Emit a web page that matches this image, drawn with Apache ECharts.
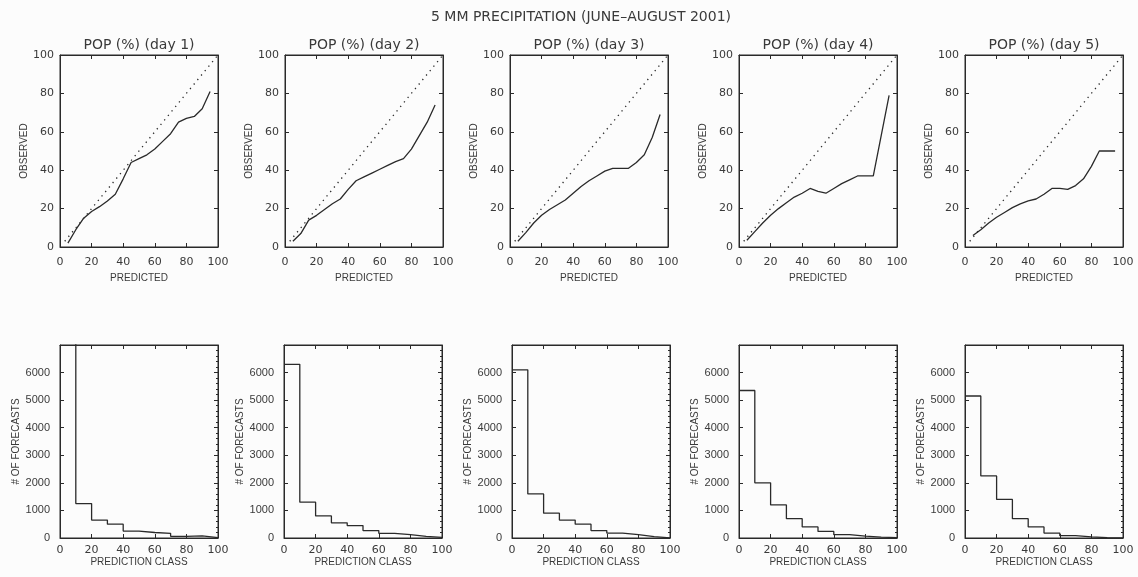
<!DOCTYPE html>
<html><head><meta charset="utf-8">
<script src="https://cdn.jsdelivr.net/npm/echarts@6/dist/echarts.min.js"></script>
<style>html,body{margin:0;padding:0;background:#fcfcfc}#c{width:1138px;height:577px}</style>
</head><body><div id="c"></div>
<script>
const mainTitle = '5 MM PRECIPITATION (JUNE\u2013AUGUST 2001)';
const panelTitles = ['POP (%) (day 1)','POP (%) (day 2)','POP (%) (day 3)','POP (%) (day 4)','POP (%) (day 5)'];
const relTicks = [0,20,40,60,80,100];
const histYTicks = [0,1000,2000,3000,4000,5000,6000];
const classEdges = [0,10,20,30,40,50,60,70,80,90,100];
const perfectLine = [[3,3],[100,100]];

const predicted = [5,10,15,20,25,30,35,40,45,50,55,60,65,70,75,80,85,90,95];
const obsDay1 = [2,9,15,18.5,21,24,27.5,35.5,44,46,48,51,55,59,65,67,68,72,81];
const obsDay2 = [3,7,14,16.5,19.5,22.5,25,30,34.5,36.5,38.5,40.5,42.5,44.5,46,51,58,65,74];
const obsDay3 = [3,7.5,12.5,16.5,19.5,22,24.5,28,31.5,34.5,37,39.5,41,41,41,44,48,57,69];
const obsDay4 = [3.5,8,12.5,16.5,20,23,26,28,30.5,29,28,30.5,33,35,37,37,37,58,79];
const obsDay5 = [6,9,12.5,15.5,18,20.5,22.5,24,25,27.5,30.5,30.5,30,32,35.5,42,50,50,50];

const histDay1 = [7600,1250,650,500,250,200,170,60,80,15];
const histDay2 = [6300,1300,800,550,450,270,170,120,60,25];
const histDay3 = [6100,1600,900,650,500,270,180,120,50,5];
const histDay4 = [5350,2000,1200,700,400,240,120,70,35,10];
const histDay5 = [5150,2250,1400,700,400,180,85,40,15,5];

const obsAll = [obsDay1,obsDay2,obsDay3,obsDay4,obsDay5];
const histAll = [histDay1,histDay2,histDay3,histDay4,histDay5];

const FONT = 'DejaVu Sans, Liberation Sans, sans-serif';
const NARROW = 'Liberation Sans Narrow, Liberation Sans, sans-serif';
const INK = '#2a2a2a';
const TXT = '#3a3a3a';

const topLefts = [60,285,510,739,965];
const botLefts = [60,284,512,739,965];
const W = 158;

const grid = [], xAxis = [], yAxis = [], series = [], title = [];
title.push({text: mainTitle, left: 581, top: 10, textAlign: 'center', padding: 0,
  textStyle: {fontFamily: FONT, fontSize: 14, fontWeight: 'normal', color: TXT}});

function baseAxis(extra) {
  return Object.assign({
    type: 'value',
    axisLine: {show: true, onZero: false, lineStyle: {color: INK, width: 1}},
    axisTick: {show: true, inside: true, length: 4, lineStyle: {color: INK}},
    splitLine: {show: false},
    axisLabel: {color: TXT, fontFamily: FONT, fontSize: 11}
  }, extra);
}

for (let i = 0; i < 5; i++) {
  const g = i;
  grid.push({left: topLefts[i], top: 55, width: W, height: 192, show: true,
    borderColor: INK, borderWidth: 1, backgroundColor: 'transparent'});
  title.push({text: panelTitles[i], left: topLefts[i] + W/2, top: 38, textAlign: 'center', padding: 0,
    textStyle: {fontFamily: FONT, fontSize: 14, fontWeight: 'normal', color: TXT}});
  xAxis.push(baseAxis({gridIndex: g, min: relTicks[0], max: relTicks[relTicks.length-1], interval: 20,
    name: 'PREDICTED', nameLocation: 'middle', nameGap: 26,
    nameTextStyle: {fontFamily: NARROW, fontSize: 10, color: TXT},
    axisLabel: {color: TXT, fontFamily: FONT, fontSize: 11, margin: 10}}));
  xAxis.push(baseAxis({gridIndex: g, position: 'top', min: 0, max: 100, interval: 20, axisLabel: {show: false}}));
  yAxis.push(baseAxis({gridIndex: g, min: 0, max: 100, interval: 20,
    name: 'OBSERVED', nameLocation: 'middle', nameGap: 30, nameRotate: 90,
    nameTextStyle: {fontFamily: NARROW, fontSize: 10, color: TXT},
    axisLabel: {color: TXT, fontFamily: FONT, fontSize: 11, margin: 6}}));
  yAxis.push(baseAxis({gridIndex: g, position: 'right', min: 0, max: 100, interval: 20, axisLabel: {show: false}}));
  series.push({type: 'line', xAxisIndex: 2*g, yAxisIndex: 2*g, data: perfectLine, symbol: 'none',
    lineStyle: {color: INK, width: 1.3, type: [1.3, 4.5]}, silent: true});
  series.push({type: 'line', xAxisIndex: 2*g, yAxisIndex: 2*g,
    data: predicted.map((p, k) => [p, obsAll[i][k]]), symbol: 'none',
    lineStyle: {color: INK, width: 1.3}, silent: true});
}
for (let i = 0; i < 5; i++) {
  const g = 5 + i;
  grid.push({left: botLefts[i], top: 345, width: W, height: 193, show: true,
    borderColor: INK, borderWidth: 1, backgroundColor: 'transparent'});
  xAxis.push(baseAxis({gridIndex: g, min: 0, max: 100, interval: 20,
    name: 'PREDICTION CLASS', nameLocation: 'middle', nameGap: 18,
    nameTextStyle: {fontFamily: NARROW, fontSize: 10, color: TXT},
    axisLabel: {color: TXT, fontFamily: FONT, fontSize: 11, margin: 7}}));
  xAxis.push(baseAxis({gridIndex: g, position: 'top', min: 0, max: 100, interval: 20, axisLabel: {show: false}}));
  yAxis.push(baseAxis({gridIndex: g, min: 0, max: 7000, interval: 1000,
    name: '# OF FORECASTS', nameLocation: 'middle', nameGap: 38, nameRotate: 90,
    nameTextStyle: {fontFamily: NARROW, fontSize: 10, color: TXT},
    axisLabel: {color: TXT, fontFamily: NARROW, fontSize: 11, margin: 10,
      formatter: v => histYTicks.indexOf(v) >= 0 ? String(v) : ''}}));
  yAxis.push(baseAxis({gridIndex: g, position: 'right', min: 0, max: 7000, interval: 1000, axisLabel: {show: false},
    minorTick: {show: true, splitNumber: 5, length: 2, lineStyle: {color: INK}}}));
  const h = histAll[i];
  const pts = [];
  for (let k = 0; k < h.length; k++) {
    pts.push([classEdges[k], h[k]]);
    pts.push([classEdges[k+1], h[k]]);
  }
  series.push({type: 'line', xAxisIndex: 2*g, yAxisIndex: 2*g, data: pts, symbol: 'none', clip: true,
    lineStyle: {color: INK, width: 1.3}, silent: true});
}

const chart = echarts.init(document.getElementById('c'), null, {renderer: 'canvas'});
chart.setOption({backgroundColor: '#fcfcfc', animation: false, title, grid, xAxis, yAxis, series});
</script></body></html>
